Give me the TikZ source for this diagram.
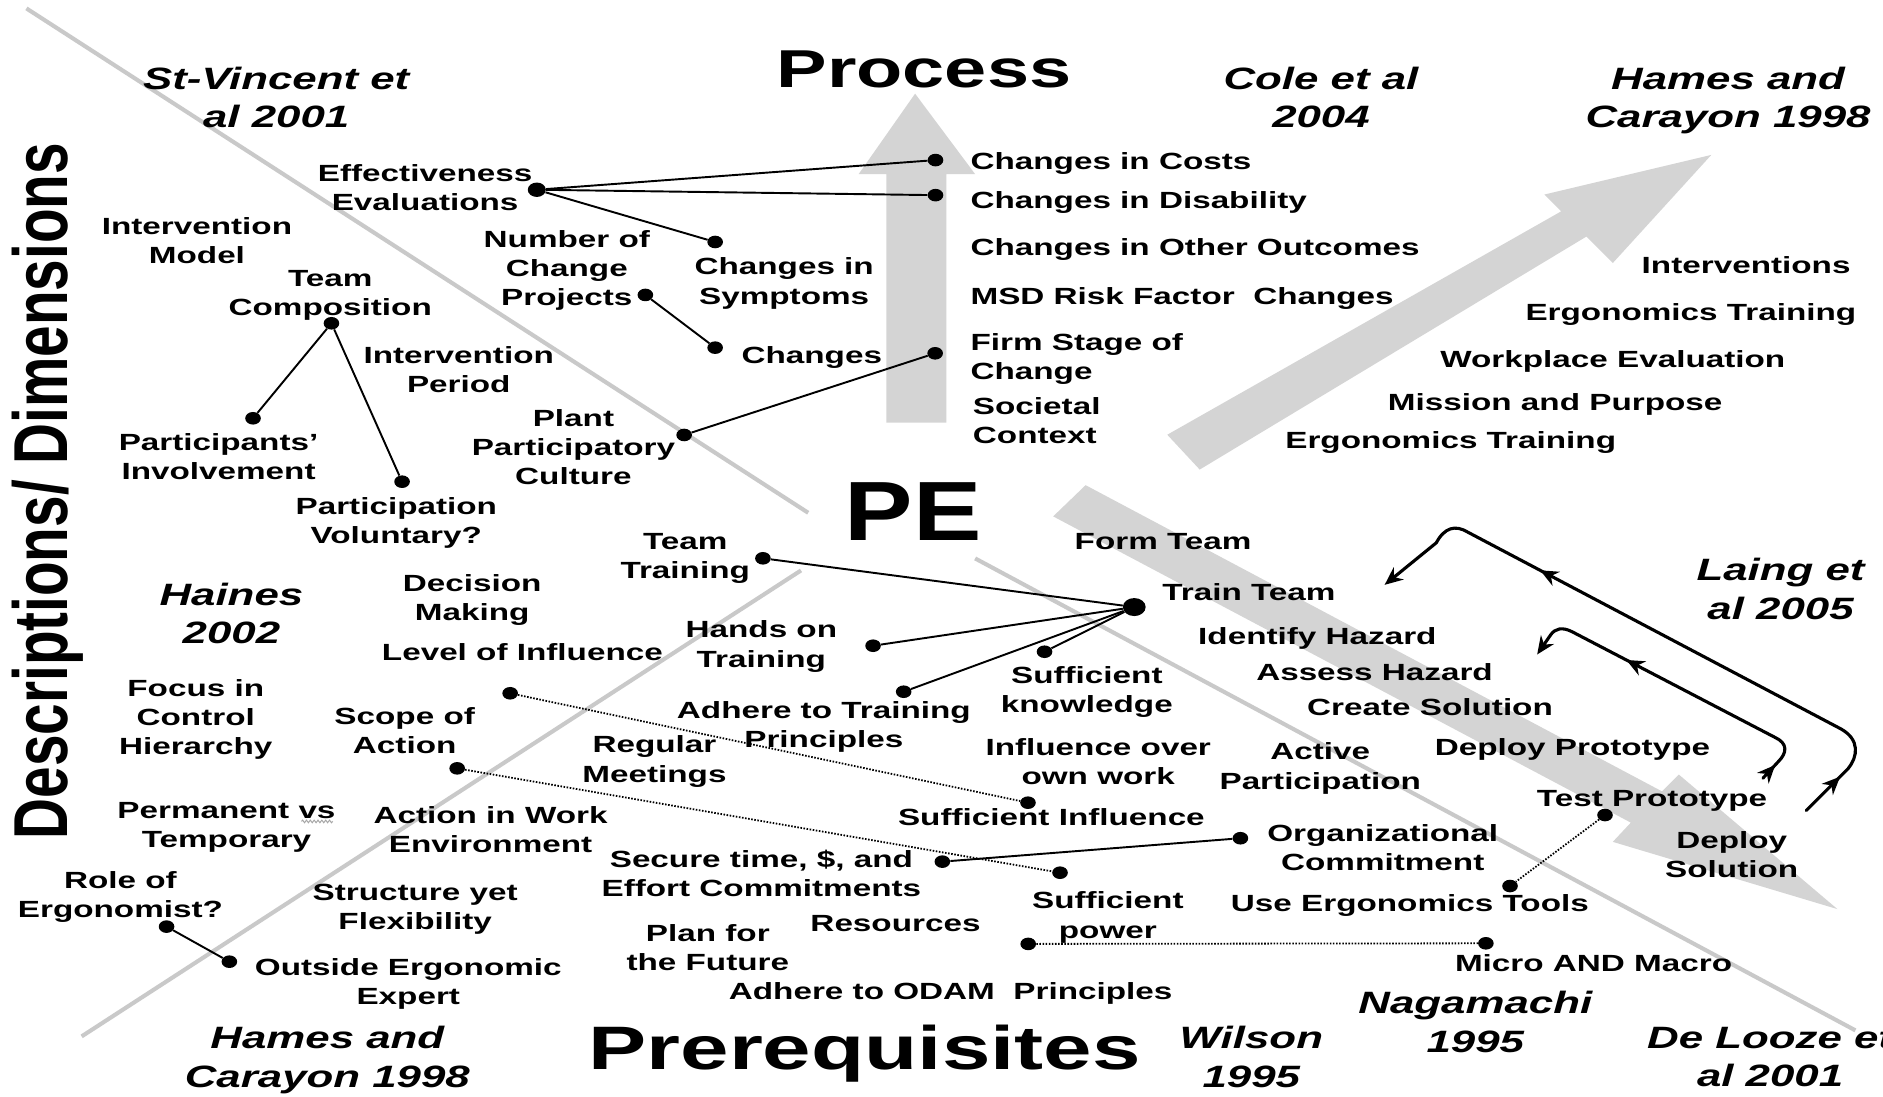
\documentclass[tikz,border=0pt]{standalone}
\usepackage{fontspec}
\usepackage{graphicx}
\usetikzlibrary{arrows.meta,decorations.markings,decorations.pathmorphing,shapes.geometric}
\newfontfamily\lblfont{Liberation Sans}[FakeStretch=1.42]
\newfontfamily\pefont{Liberation Sans}[FakeStretch=1.22]
\newfontfamily\plainsans{Liberation Sans}
\tikzset{looptip/.tip={Stealth[length=15pt,width=13pt]}}

\begin{document}
\begin{tikzpicture}[x=1pt,y=-1pt,
  lb/.style={font=\lblfont\bfseries\fontsize{19.5}{24.3}\selectfont, align=center, inner sep=0pt, text depth=0pt},
  lbw/.style={lb, anchor=west, align=left},
  rf/.style={font=\lblfont\bfseries\itshape\fontsize{25.7}{32.3}\selectfont, align=center, inner sep=0pt, text depth=0pt},
  dot/.style={ellipse, fill=black, inner sep=0pt, minimum width=13pt, minimum height=10.5pt},
  hubdot/.style={dot, minimum width=19pt, minimum height=15pt},
  link/.style={line width=1.6pt},
  dotlink/.style={line width=1.5pt, dash pattern=on 1.3pt off 1.3pt},
  greyline/.style={draw=black!21, line width=3.4pt},
  greyarrow/.style={fill=black!17},
  loopline/.style={line width=2.6pt, line cap=round, line join=round},
]
\path[use as bounding box, fill=white] (0,0) rectangle (1568,913);

% ---- grey guide lines and direction arrows
\draw[greyline] (22,7) -- (673,427);
\draw[greyline] (68,863) -- (667,475);
\draw[greyline] (812,465) -- (1545,858);
\fill[greyarrow] (738,352) -- (738,145) -- (715,145) -- (762,78) -- (812,145) -- (788,145) -- (788,352) -- cycle;
\fill[greyarrow] (972,362) -- (1300,176) -- (1286,162) -- (1425,129) -- (1343,219) -- (1321,197) -- (999,391) -- cycle;
\fill[greyarrow] (904,404) -- (1384,659) -- (1398,645) -- (1530,757) -- (1343,701) -- (1358,685) -- (877,430) -- cycle;

% ---- big headings
\node[rotate=90, inner sep=0pt] (desc) at (40,409)
  {\scalebox{1}[1.35]{\plainsans\bfseries\fontsize{47.2}{56}\selectfont Descriptions/ Dimensions}};
\node[font=\lblfont\bfseries\fontsize{44.4}{50}\selectfont, inner sep=0pt] (proc) at (769.4,58) {Process};
\node[font=\pefont\bfseries\fontsize{70}{80}\selectfont, inner sep=0pt] (pe) at (760.5,426) {PE};
\node[font=\lblfont\bfseries\fontsize{51.1}{60}\selectfont, inner sep=0pt] (prereq) at (720,877) {Prerequisites};

% ---- references
\node[rf] (stv) at (230,81) {St-Vincent et\\al 2001};
\node[rf] (cole) at (1100,81) {Cole et al\\2004};
\node[rf] (hames1) at (1439,81) {Hames and\\Carayon 1998};
\node[rf] (haines) at (192.7,510.7) {Haines\\2002};
\node[rf] (laing) at (1482.7,490) {Laing et\\al 2005};
\node[rf] (hames2) at (272.6,880) {Hames and\\Carayon 1998};
\node[rf] (wilson) at (1042,880) {Wilson\\1995};
\node[rf] (naga) at (1228.5,850.7) {Nagamachi\\1995};
\node[rf] (delooze) at (1474,880) {De Looze et\\al 2001};

% ---- dots
\node[dot, minimum width=15pt, minimum height=12pt] (dEff) at (447,158) {};
\node[dot] (dCosts) at (779,133.3) {};
\node[dot] (dDisab) at (779,162.5) {};
\node[dot] (dSym) at (595.5,201.5) {};
\node[dot] (dProj) at (537.4,245.6) {};
\node[dot] (dChg) at (595.5,289.5) {};
\node[dot] (dFirm) at (778.7,294.2) {};
\node[dot] (dPlant) at (569.7,362.2) {};
\node[dot] (dTC) at (276,269.2) {};
\node[dot] (dPI) at (210.7,348.3) {};
\node[dot] (dPV) at (334.8,401.1) {};
\node[dot] (dTT) at (635.3,464.9) {};
\node[hubdot] (dHub) at (944.5,505.5) {};
\node[dot] (dHands) at (727,537.7) {};
\node[dot] (dSK) at (869.8,542.7) {};
\node[dot] (dAdh) at (752.5,576) {};
\node[dot] (dLev) at (424.8,577.3) {};
\node[dot] (dSInf) at (856,668.4) {};
\node[dot] (dScope) at (380.7,639.8) {};
\node[dot] (dSPowA) at (882.7,726.7) {};
\node[dot] (dSec) at (784.7,717.5) {};
\node[dot] (dOrg) at (1032.9,698) {};
\node[dot] (dTest) at (1336.5,678.7) {};
\node[dot] (dUse) at (1257.4,737.8) {};
\node[dot] (dRole) at (138.7,771.6) {};
\node[dot] (dOut) at (191,800.8) {};
\node[dot] (dSPowB) at (856.2,786) {};
\node[dot] (dMicro) at (1237.3,785.5) {};

% ---- solid links
\draw[link] (dEff) -- (dCosts);
\draw[link] (dEff) -- (dDisab);
\draw[link] (dEff) -- (dSym);
\draw[link] (dProj) -- (dChg);
\draw[link] (dPlant) -- (dFirm);
\draw[link] (dTC) -- (dPI);
\draw[link] (dTC) -- (dPV);
\draw[link] (dTT) -- (dHub);
\draw[link] (dHands) -- (dHub);
\draw[link] (dAdh) -- (dHub);
\draw[link] (dSK) -- (dHub);
\draw[link] (dSec) -- (dOrg);
\draw[link] (dRole) -- (dOut);

% ---- dotted links
\draw[dotlink] (dLev) -- (dSInf);
\draw[dotlink] (dScope) -- (dSPowA);
\draw[dotlink] (dTest) -- (dUse);
\draw[dotlink] (dSPowB) -- (dMicro);

% ---- feedback loops of the process steps
\coordinate (o1) at (1504,675);
\coordinate (o2) at (1539,640);
\coordinate (o3) at (1533,607);
\coordinate (o4) at (1222,443);
\coordinate (o5) at (1196,452);
\coordinate (o6) at (1153,487);
\draw[loopline, -{looptip}, postaction={decorate},
  decoration={markings,
    mark=at position 40pt with {\arrow{looptip}},
    mark=at position 372pt with {\arrow{looptip}}}]
  (o1) -- (o2) .. controls (1547,630) and (1549,616) .. (o3)
  -- (o4) .. controls (1212,437) and (1203,439) .. (o5) -- (o6);
\coordinate (i1) at (1468,648);
\coordinate (i2) at (1481,634);
\coordinate (i3) at (1478,614);
\coordinate (i4) at (1309,526);
\coordinate (i5) at (1291,529);
\coordinate (i6) at (1280,545);
\draw[loopline, -{looptip}, postaction={decorate},
  decoration={markings,
    mark=at position 15pt with {\arrow{looptip}},
    mark=at position 184pt with {\arrow{looptip}}}]
  (i1) -- (i2) .. controls (1488,627) and (1489,619) .. (i3)
  -- (i4) .. controls (1301,522) and (1295,523) .. (i5) -- (i6);

% ---- labels: upper left
\node[lb] (eff) at (354,156) {Effectiveness\\Evaluations};
\node[lb] (intmod) at (164,200.5) {Intervention\\Model};
\node[lb] (teamcomp) at (275,243.6) {Team\\Composition};
\node[lb] (numchg) at (472,223) {Number of\\Change\\Projects};
\node[lb] (chsym) at (653,234) {Changes in\\Symptoms};
\node[lb] (chg) at (676,296) {Changes};
\node[lb] (intper) at (382,307.4) {Intervention\\Period};
\node[lb] (partinv) at (182,380) {Participants’\\Involvement};
\node[lb] (partvol) at (330,433.7) {Participation\\Voluntary?};
\node[lb] (plant) at (477.5,372.4) {Plant\\Participatory\\Culture};

% ---- labels: process outcomes
\node[lbw] (costs) at (808,134) {Changes in Costs};
\node[lbw] (disab) at (808,166.5) {Changes in Disability};
\node[lbw] (other) at (808,206) {Changes in Other Outcomes};
\node[lbw] (msd) at (808,246.5) {MSD Risk Factor~~Changes};
\node[lbw] (firm) at (808,296.6) {Firm Stage of\\Change};
\node[lbw] (soc) at (810,350) {Societal\\Context};

% ---- labels: interventions
\node[lb] (interv) at (1454,220.7) {Interventions};
\node[lb] (ergoA) at (1408,259.5) {Ergonomics Training};
\node[lb] (workpl) at (1343,299) {Workplace Evaluation};
\node[lb] (mission) at (1295,334.5) {Mission and Purpose};
\node[lb] (ergoB) at (1208,366.4) {Ergonomics Training};

% ---- labels: prerequisites
\node[lb] (teamtr) at (570.6,462.8) {Team\\Training};
\node[lb] (decis) at (393.2,497.5) {Decision\\Making};
\node[lb] (hands) at (634,536.3) {Hands on\\Training};
\node[lb] (level) at (435,542.7) {Level of Influence};
\node[lb] (focus) at (163,596.8) {Focus in\\Control\\Hierarchy};
\node[lb] (scope) at (337,608) {Scope of\\Action};
\node[lb] (adhtr) at (686,603.3) {Adhere to Training\\Principles};
\node[lb] (regular) at (545,632) {Regular\\Meetings};
\node[lb] (suffkn) at (905,574) {Sufficient\\knowledge};
\node[lb] (inflown) at (914.5,634) {Influence over\\own work};
\node[lb] (perm) at (188.6,687) {Permanent vs\\Temporary};
\draw[black!35, line width=0.8pt, decorate, decoration={snake, amplitude=1.1pt, segment length=3.2pt}] (251,684) -- (277,684);
\node[lb] (actwork) at (408.5,690.5) {Action in Work\\Environment};
\node[lb] (suffinf) at (875.5,680.6) {Sufficient Influence};
\node[lb] (secure) at (634,727) {Secure time, \$, and\\Effort Commitments};
\node[lb] (role) at (100.3,744.6) {Role of\\Ergonomist?};
\node[lb] (struct) at (345.7,755) {Structure yet\\Flexibility};
\node[lb] (plan) at (589.4,789) {Plan for\\the Future};
\node[lb] (resources) at (745.7,769) {Resources};
\node[lb] (suffpow) at (922.5,762) {Sufficient\\power};
\node[lb] (outside) at (340,817.5) {Outside Ergonomic\\Expert};
\node[lb] (odam) at (791.6,825) {Adhere to ODAM~~Principles};

% ---- labels: process steps
\node[lb] (formteam) at (968.5,451) {Form Team};
\node[lb] (trainteam) at (1040,493) {Train Team};
\node[lb] (identify) at (1097,530) {Identify Hazard};
\node[lb] (assess) at (1144.6,559.3) {Assess Hazard};
\node[lb] (create) at (1190.8,588.4) {Create Solution};
\node[lb] (deployproto) at (1309.4,621.8) {Deploy Prototype};
\node[lb] (active) at (1099.4,637.8) {Active\\Participation};
\node[lb] (test) at (1375.7,664.8) {Test Prototype};
\node[lb] (orgcom) at (1151.4,705.8) {Organizational\\Commitment};
\node[lb] (deploysol) at (1442,711.3) {Deploy\\Solution};
\node[lb] (useergo) at (1174,752.2) {Use Ergonomics Tools};
\node[lb] (micro) at (1327,802.2) {Micro AND Macro};
\end{tikzpicture}
\end{document}
